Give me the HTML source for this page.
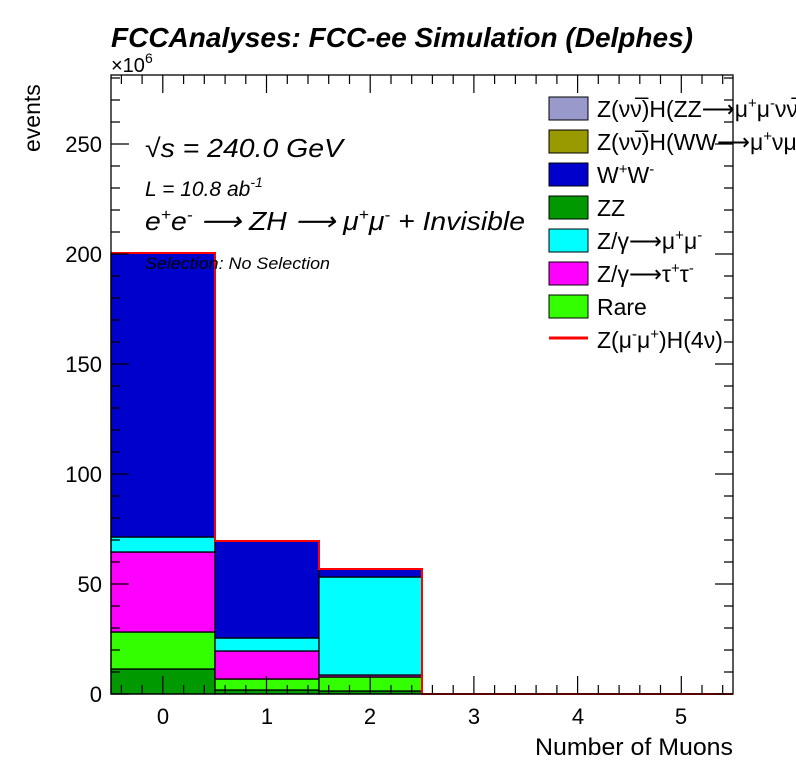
<!DOCTYPE html>
<html><head><meta charset="utf-8"><style>
body{margin:0;background:#fff;}
svg{display:block;font-family:"Liberation Sans",sans-serif;}
</style></head><body>
<svg width="796" height="772" viewBox="0 0 796 772" xmlns="http://www.w3.org/2000/svg">
<rect width="796" height="772" fill="#fff"/>
<g stroke="#000" stroke-width="1.3">
<rect x="111" y="669" width="104" height="25" fill="#009900"/>
<rect x="111" y="632" width="104" height="37" fill="#33ff00"/>
<rect x="111" y="552" width="104" height="80" fill="#ff00ff"/>
<rect x="111" y="537" width="104" height="15" fill="#00ffff"/>
<rect x="111" y="253" width="104" height="284" fill="#0000cc"/>
<rect x="215" y="690" width="104" height="4" fill="#009900"/>
<rect x="215" y="679" width="104" height="11" fill="#33ff00"/>
<rect x="215" y="651" width="104" height="28" fill="#ff00ff"/>
<rect x="215" y="638" width="104" height="13" fill="#00ffff"/>
<rect x="215" y="541" width="104" height="97" fill="#0000cc"/>
<rect x="319" y="691" width="103" height="3" fill="#009900"/>
<rect x="319" y="677" width="103" height="14" fill="#33ff00"/>
<rect x="319" y="675" width="103" height="2" fill="#ff00ff"/>
<rect x="319" y="577" width="103" height="98" fill="#00ffff"/>
<rect x="319" y="569" width="103" height="8" fill="#0000cc"/>
</g>
<polyline points="111,253 215,253 215,541 319,541 319,569 422,569 422,694 733,694" fill="none" stroke="#ff0000" stroke-width="2"/>
<rect x="111" y="75" width="622" height="619" fill="none" stroke="#000" stroke-width="1.3"/>
<g stroke="#000" stroke-width="1.2">
<path d="
M111,694h18 M111,672h9 M111,650h9 M111,628h9 M111,606h9 M111,584h18 M111,562h9 M111,540h9 M111,518h9 M111,496h9 M111,474h18 M111,452h9 M111,430h9 M111,408h9 M111,386h9 M111,364h18 M111,342h9 M111,320h9 M111,298h9 M111,276h9 M111,254h18 M111,232h9 M111,210h9 M111,188h9 M111,166h9 M111,144h18 M111,122h9 M111,100h9 M111,78h9
M733,694h-18 M733,672h-9 M733,650h-9 M733,628h-9 M733,606h-9 M733,584h-18 M733,562h-9 M733,540h-9 M733,518h-9 M733,496h-9 M733,474h-18 M733,452h-9 M733,430h-9 M733,408h-9 M733,386h-9 M733,364h-18 M733,342h-9 M733,320h-9 M733,298h-9 M733,276h-9 M733,254h-18 M733,232h-9 M733,210h-9 M733,188h-9 M733,166h-9 M733,144h-18 M733,122h-9 M733,100h-9 M733,78h-9
"/>
<path d="
M121.4,694v-9 M142.1,694v-9 M162.8,694v-18 M183.6,694v-9 M204.3,694v-9 M225.1,694v-9 M245.8,694v-9 M266.5,694v-18 M287.3,694v-9 M308,694v-9 M328.7,694v-9 M349.5,694v-9 M370.2,694v-18 M391,694v-9 M411.7,694v-9 M432.4,694v-9 M453.2,694v-9 M473.9,694v-18 M494.6,694v-9 M515.4,694v-9 M536.1,694v-9 M556.9,694v-9 M577.6,694v-18 M598.3,694v-9 M619.1,694v-9 M639.8,694v-9 M660.5,694v-9 M681.3,694v-18 M702,694v-9 M722.7,694v-9
M121.4,75v9 M142.1,75v9 M162.8,75v18 M183.6,75v9 M204.3,75v9 M225.1,75v9 M245.8,75v9 M266.5,75v18 M287.3,75v9 M308,75v9 M328.7,75v9 M349.5,75v9 M370.2,75v18 M391,75v9 M411.7,75v9 M432.4,75v9 M453.2,75v9 M473.9,75v18 M494.6,75v9 M515.4,75v9 M536.1,75v9 M556.9,75v9 M577.6,75v18 M598.3,75v9 M619.1,75v9 M639.8,75v9 M660.5,75v9 M681.3,75v18 M702,75v9 M722.7,75v9
"/>
</g>
<g font-size="22" fill="#000" text-anchor="end">
<text x="102" y="702">0</text>
<text x="102" y="592">50</text>
<text x="102" y="482">100</text>
<text x="102" y="372">150</text>
<text x="102" y="262">200</text>
<text x="102" y="152">250</text>
</g>
<g font-size="22" fill="#000" text-anchor="middle">
<text x="163" y="724">0</text>
<text x="267" y="724">1</text>
<text x="370" y="724">2</text>
<text x="474" y="724">3</text>
<text x="578" y="724">4</text>
<text x="681" y="724">5</text>
</g>
<text x="733" y="755" font-size="24" text-anchor="end" textLength="198" lengthAdjust="spacingAndGlyphs">Number of Muons</text>
<text transform="translate(40,152) rotate(-90)" font-size="23">events</text>
<text x="111" y="72" font-size="20">×10<tspan dy="-9" font-size="14">6</tspan></text>
<text x="111" y="47" font-size="28" font-weight="bold" font-style="italic" textLength="582" lengthAdjust="spacingAndGlyphs">FCCAnalyses: FCC-ee Simulation (Delphes)</text>
<g font-style="italic" fill="#000">
<text x="145" y="157" font-size="26" textLength="198" lengthAdjust="spacingAndGlyphs">√s = 240.0 GeV</text>
<text x="145" y="196" font-size="21">L = 10.8 ab<tspan dy="-9" font-size="14">-1</tspan></text>
<text x="145" y="230" font-size="26" textLength="380" lengthAdjust="spacingAndGlyphs">e<tspan dy="-10" font-size="16">+</tspan><tspan dy="10">e</tspan><tspan dy="-10" font-size="16">-</tspan><tspan dy="10"> ⟶ ZH ⟶ μ</tspan><tspan dy="-10" font-size="16">+</tspan><tspan dy="10">μ</tspan><tspan dy="-10" font-size="16">-</tspan><tspan dy="10"> + Invisible</tspan></text>
<text x="145" y="269" font-size="17" textLength="185" lengthAdjust="spacingAndGlyphs">Selection: No Selection</text>
</g>
<g stroke="#000" stroke-width="1">
<rect x="549" y="97" width="39" height="23" fill="#9999cc"/>
<rect x="549" y="130" width="39" height="23" fill="#999900"/>
<rect x="549" y="163" width="39" height="23" fill="#0000cc"/>
<rect x="549" y="196" width="39" height="23" fill="#009900"/>
<rect x="549" y="229" width="39" height="23" fill="#00ffff"/>
<rect x="549" y="262" width="39" height="23" fill="#ff00ff"/>
<rect x="549" y="295" width="39" height="23" fill="#33ff00"/>
</g>
<line x1="549" y1="338" x2="588" y2="338" stroke="#ff0000" stroke-width="3"/>
<g font-size="23" fill="#000">
<text x="597" y="117">Z(νν̅)H(ZZ⟶μ<tspan dy="-9" font-size="15">+</tspan><tspan dy="9">μ</tspan><tspan dy="-9" font-size="15">-</tspan><tspan dy="9">νν̅)</tspan></text>
<text x="597" y="150">Z(νν̅)H(WW⟶μ<tspan dy="-9" font-size="15">+</tspan><tspan dy="9">νμ</tspan><tspan dy="-9" font-size="15">-</tspan><tspan dy="9">ν̅)</tspan></text>
<text x="597" y="183">W<tspan dy="-9" font-size="15">+</tspan><tspan dy="9">W</tspan><tspan dy="-9" font-size="15">-</tspan></text>
<text x="597" y="216">ZZ</text>
<text x="597" y="249">Z/γ⟶μ<tspan dy="-9" font-size="15">+</tspan><tspan dy="9">μ</tspan><tspan dy="-9" font-size="15">-</tspan></text>
<text x="597" y="282">Z/γ⟶τ<tspan dy="-9" font-size="15">+</tspan><tspan dy="9">τ</tspan><tspan dy="-9" font-size="15">-</tspan></text>
<text x="597" y="315">Rare</text>
<text x="597" y="348">Z(μ<tspan dy="-9" font-size="15">-</tspan><tspan dy="9">μ</tspan><tspan dy="-9" font-size="15">+</tspan><tspan dy="9">)H(4ν)</tspan></text>
</g>
</svg>
</body></html>
